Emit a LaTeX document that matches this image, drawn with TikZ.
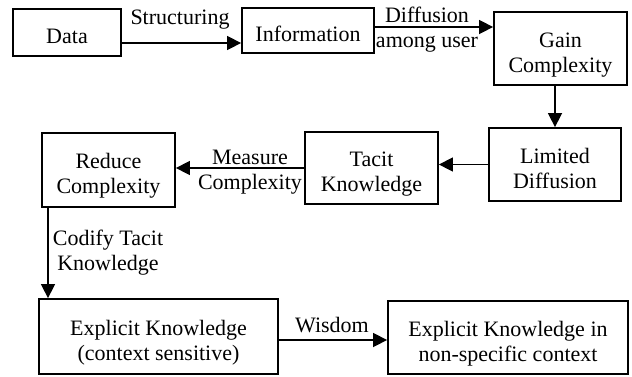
\documentclass[tikz,border=0pt]{standalone}
\usepackage{fontspec}
\setmainfont{Liberation Serif}
\usetikzlibrary{arrows.meta}
\begin{document}
\begin{tikzpicture}[x=1pt,y=-1pt,
  font=\fontsize{22}{25}\selectfont,
  box/.style={draw, line width=1.8pt, align=center, inner sep=0pt,
    execute at end node={\rule[-6pt]{0pt}{6pt}}},
  onebox/.style={box, execute at begin node={\rule{0pt}{28pt}}},
  twobox/.style={box, execute at begin node={\rule{0pt}{53pt}}},
  lbl/.style={align=center, inner sep=0pt},
  arr/.style={line width=1.5pt, -{Triangle[length=14pt,width=14pt]}}]
\useasboundingbox (0,0) rectangle (632,376);
\node[onebox, minimum width=108pt, minimum height=47pt] (a) at (67,32.5) {Data};
\node[onebox, minimum width=132pt, minimum height=45pt] (b) at (308,30.5) {Information};
\node[twobox, minimum width=133pt, minimum height=73pt] (c) at (560.5,48.5) {Gain\\Complexity};
\node[twobox, minimum width=132pt, minimum height=73pt] (d) at (555,164.5) {Limited\\Diffusion};
\node[twobox, minimum width=133pt, minimum height=72pt] (e) at (371.5,168) {Tacit\\Knowledge};
\node[twobox, minimum width=133pt, minimum height=74pt] (f) at (108.5,170) {Reduce\\Complexity};
\node[twobox, minimum width=239pt, minimum height=75pt] (g) at (158.5,336.5) {Explicit Knowledge\\(context sensitive)};
\node[twobox, minimum width=240pt, minimum height=73pt] (h) at (508,337.5) {Explicit Knowledge in\\non-specific context};

\node[lbl] (la) at (180,20) {Structuring};
\node[lbl] (lb) at (427,29.5) {Diffusion\\among user};
\node[lbl] (le) at (250,172) {Measure\\Complexity};
\node[lbl] (lf) at (108,253) {Codify Tacit\\Knowledge};
\node[lbl] (lg) at (332,325) {Wisdom};

\coordinate (k) at (48,0);
\draw[arr] (a.east |- 0,43) -- (b.west |- 0,43);
\draw[arr] (b.east |- 0,27) -- (c.west |- 0,27);
\draw[arr] (d.north |- c.south) -- (d.north);
\draw[arr] (d.west) -- (e.east |- d.west);
\draw[arr] (e.west) -- (f.east |- e.west);
\draw[arr] (f.south -| k) -- (g.north -| k);
\draw[arr] (g.east |- 0,340) -- (h.west |- 0,340);
\end{tikzpicture}
\end{document}
